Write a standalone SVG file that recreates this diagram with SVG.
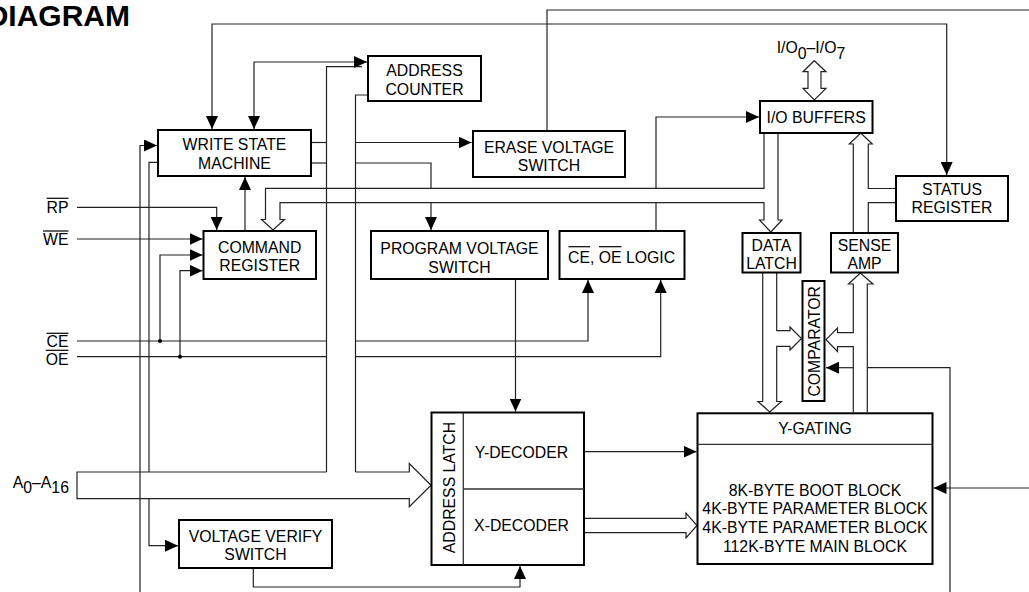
<svg xmlns="http://www.w3.org/2000/svg" width="1029" height="592" viewBox="0 0 1029 592">
<defs>
<marker id="ah" markerUnits="userSpaceOnUse" markerWidth="13" markerHeight="12" refX="13" refY="6" orient="auto" viewBox="0 0 13 12"><path d="M0,0 L13,6 L0,12 z" fill="#000"/></marker>
</defs>
<style>
.t{font-family:"Liberation Sans",Arial,sans-serif;font-size:15.8px;fill:#000}
.c{text-anchor:middle}
.e{text-anchor:end}
.b{fill:#fff;stroke:#000;stroke-width:2}
.s{fill:none;stroke:#000;stroke-width:1.3}
.a{marker-end:url(#ah)}
.o{stroke:#000;stroke-width:1.2}
</style>
<rect width="1029" height="592" fill="#fff"/>
<text x="130" y="26" style="font-family:'Liberation Sans',Arial,sans-serif;font-size:30px;font-weight:bold;text-anchor:end">DIAGRAM</text>

<g id="connectors" fill="none" stroke="#222" stroke-width="1.2">
<path class="a" d="M600,24 H212 V129"/>
<path class="a" d="M600,24 H946.7 V175"/>
<path class="a" d="M300,62 H254 V129"/>
<path class="a" d="M300,62 H367"/>
<path d="M326.5,472 V66.7 H362"/>
<path d="M367,95 H355.5 V472"/>
<path d="M311,142.5 H326.5"/>
<path class="a" d="M355.5,142.5 H471.5"/>
<path d="M311,163 H326.5"/>
<path d="M355.5,163 H431 V188"/>
<path class="a" d="M431,203 V230"/>
<path class="a" d="M547,130 V10 H1035 V488 H933.5"/>
<path d="M656,230 V203"/>
<path class="a" d="M656,188 V117 H759"/>
<path fill="#fff" d="M814.3,60.7 L826,71.7 H821 V88.3 H826 L814.3,100 L803,88.3 H808 V71.7 H803 Z"/>
<path d="M778,133 V220 H782 L770.8,232 L759.5,220 H764 V202.7 H280 V219.5 H284.5 L273,230 L261.5,219.5 H265.5 V188.3 H764 V133"/>
<path d="M853.3,232 V144 H849.3 L860.8,133 L872.3,144 H868.3 V188.5 H895"/>
<path d="M895,202.7 H868.3 V232"/>
<path d="M867.3,412.5 V284 H873 L860.3,273 L848.5,284 H853.3 V332.7 H837.5 V328 L826,339.7 L837.5,351.5 V346.7 H853.3 V412.5"/>
<path d="M762.7,273 V401.5 H758 L769.7,412 L781.4,401.5 H776.7 V346.3 H790 V350 L801.5,338.5 L790,327 V330.7 H776.7 V273"/>
<path d="M950,600 V367.7 H867.3"/>
<path class="a" d="M853.3,367.7 H826"/>
<path class="a" d="M77,207.3 H216.7 V230"/>
<path class="a" d="M77,239 H202.5"/>
<path class="a" d="M160,341 V255 H202.5"/>
<path class="a" d="M180,356.7 V270.7 H202.5"/>
<path d="M77,341 H326.5"/>
<path class="a" d="M355.5,341 H588 V280"/>
<path d="M77,356.7 H326.5"/>
<path class="a" d="M355.5,356.7 H660.7 V280"/>
<path class="a" d="M245,230 V177"/>
<path class="a" d="M140,600 V145.5 H157"/>
<path d="M157,162.3 H149 V472"/>
<path class="a" d="M149,498.7 V545.7 H178"/>
<path class="a" d="M515.5,280 V411.5"/>
<path class="a" d="M253.3,569 V587 H520 V566"/>
<path class="a" d="M585,451.7 H696.5"/>
<path d="M585,518.3 H686 V513 L697,525.5 L686,538 V532.7 H585"/>
<path d="M326.5,472 H77 V498.7 H409.3 V506.7 L431,485.3 L409.3,463.5 V472 H355.5"/>
<circle cx="160" cy="341" r="2" fill="#000" stroke="none"/>
<circle cx="180" cy="356.7" r="2" fill="#000" stroke="none"/>
</g>

<g id="labels">
<text class="t e" x="68.5" y="212.7">RP</text>
<line class="o" x1="46.6" y1="198.3" x2="68.5" y2="198.3"/>
<text class="t e" x="68.5" y="245">WE</text>
<line class="o" x1="43" y1="231" x2="68.5" y2="231"/>
<text class="t e" x="68.5" y="346.7">CE</text>
<line class="o" x1="46.6" y1="333.3" x2="68.5" y2="333.3"/>
<text class="t e" x="68.5" y="364.5">OE</text>
<line class="o" x1="45.7" y1="350.3" x2="68.5" y2="350.3"/>
<text class="t" x="12.7" y="488.3">A<tspan dy="5">0</tspan><tspan dy="-5">–A</tspan><tspan dy="5">16</tspan></text>
<text class="t" x="776.7" y="53.3">I/O<tspan dy="6">0</tspan><tspan dy="-6">–I/O</tspan><tspan dy="6">7</tspan></text>
</g>

<g id="write-state-machine">
<rect class="b" x="158" y="130" width="153" height="46"/>
<text class="t c" x="234.5" y="150">WRITE STATE</text>
<text class="t c" x="234.5" y="169.3">MACHINE</text>
</g>
<g id="address-counter">
<rect class="b" x="368" y="56" width="113" height="45"/>
<text class="t c" x="424.5" y="76">ADDRESS</text>
<text class="t c" x="424.5" y="95">COUNTER</text>
</g>
<g id="erase-voltage-switch">
<rect class="b" x="473" y="131" width="152" height="46"/>
<text class="t c" x="549" y="152.5">ERASE VOLTAGE</text>
<text class="t c" x="549" y="170.7">SWITCH</text>
</g>
<g id="io-buffers">
<rect class="b" x="760" y="101" width="112.5" height="32"/>
<text class="t c" x="816.2" y="122.7">I/O BUFFERS</text>
</g>
<g id="status-register">
<rect class="b" x="896" y="176" width="112" height="45"/>
<text class="t c" x="952" y="195">STATUS</text>
<text class="t c" x="952" y="213.3">REGISTER</text>
</g>
<g id="command-register">
<rect class="b" x="203.5" y="231" width="112.5" height="48"/>
<text class="t c" x="259.7" y="252.7">COMMAND</text>
<text class="t c" x="259.7" y="271">REGISTER</text>
</g>
<g id="program-voltage-switch">
<rect class="b" x="371" y="231" width="177" height="48"/>
<text class="t c" x="459.5" y="254">PROGRAM VOLTAGE</text>
<text class="t c" x="459.5" y="272.7">SWITCH</text>
</g>
<g id="ce-oe-logic">
<rect class="b" x="559.5" y="231" width="125" height="48"/>
<text class="t" x="568" y="263.3">CE, OE LOGIC</text>
<line class="o" x1="568.5" y1="246.7" x2="590" y2="246.7"/>
<line class="o" x1="599" y1="246.7" x2="621.5" y2="246.7"/>
</g>
<g id="data-latch">
<rect class="b" x="742.5" y="233" width="58" height="39.5"/>
<text class="t c" x="771.5" y="250.7">DATA</text>
<text class="t c" x="771.5" y="269">LATCH</text>
</g>
<g id="sense-amp">
<rect class="b" x="831" y="233" width="67" height="39.5"/>
<text class="t c" x="864.5" y="250.7">SENSE</text>
<text class="t c" x="864.5" y="269">AMP</text>
</g>
<g id="comparator">
<rect class="b" x="802.5" y="281" width="22" height="120"/>
<text class="t c" transform="translate(820,341.3) rotate(-90)">COMPARATOR</text>
</g>
<g id="address-latch-decoders">
<rect class="b" x="431.5" y="412.5" width="152.5" height="152.5"/>
<line x1="463.3" y1="412.5" x2="463.3" y2="565" stroke="#333" stroke-width="1.3"/>
<line x1="463.3" y1="489" x2="584" y2="489" stroke="#333" stroke-width="1.3"/>
<text class="t c" transform="translate(455,487.5) rotate(-90)">ADDRESS LATCH</text>
<text class="t c" x="521.5" y="458.3">Y-DECODER</text>
<text class="t c" x="521.5" y="531">X-DECODER</text>
</g>
<g id="memory-array">
<rect class="b" x="697.5" y="413.3" width="235" height="150.7"/>
<line x1="697.5" y1="444.3" x2="932.5" y2="444.3" stroke="#333" stroke-width="1.3"/>
<text class="t c" x="815" y="434.3">Y-GATING</text>
<text class="t c" x="815" y="495.7">8K-BYTE BOOT BLOCK</text>
<text class="t c" x="815" y="514.4">4K-BYTE PARAMETER BLOCK</text>
<text class="t c" x="815" y="533.1">4K-BYTE PARAMETER BLOCK</text>
<text class="t c" x="815" y="551.8">112K-BYTE MAIN BLOCK</text>
</g>
<g id="voltage-verify-switch">
<rect class="b" x="179" y="520" width="153" height="48"/>
<text class="t c" x="255.5" y="541.7">VOLTAGE VERIFY</text>
<text class="t c" x="255.5" y="560">SWITCH</text>
</g>
</svg>
